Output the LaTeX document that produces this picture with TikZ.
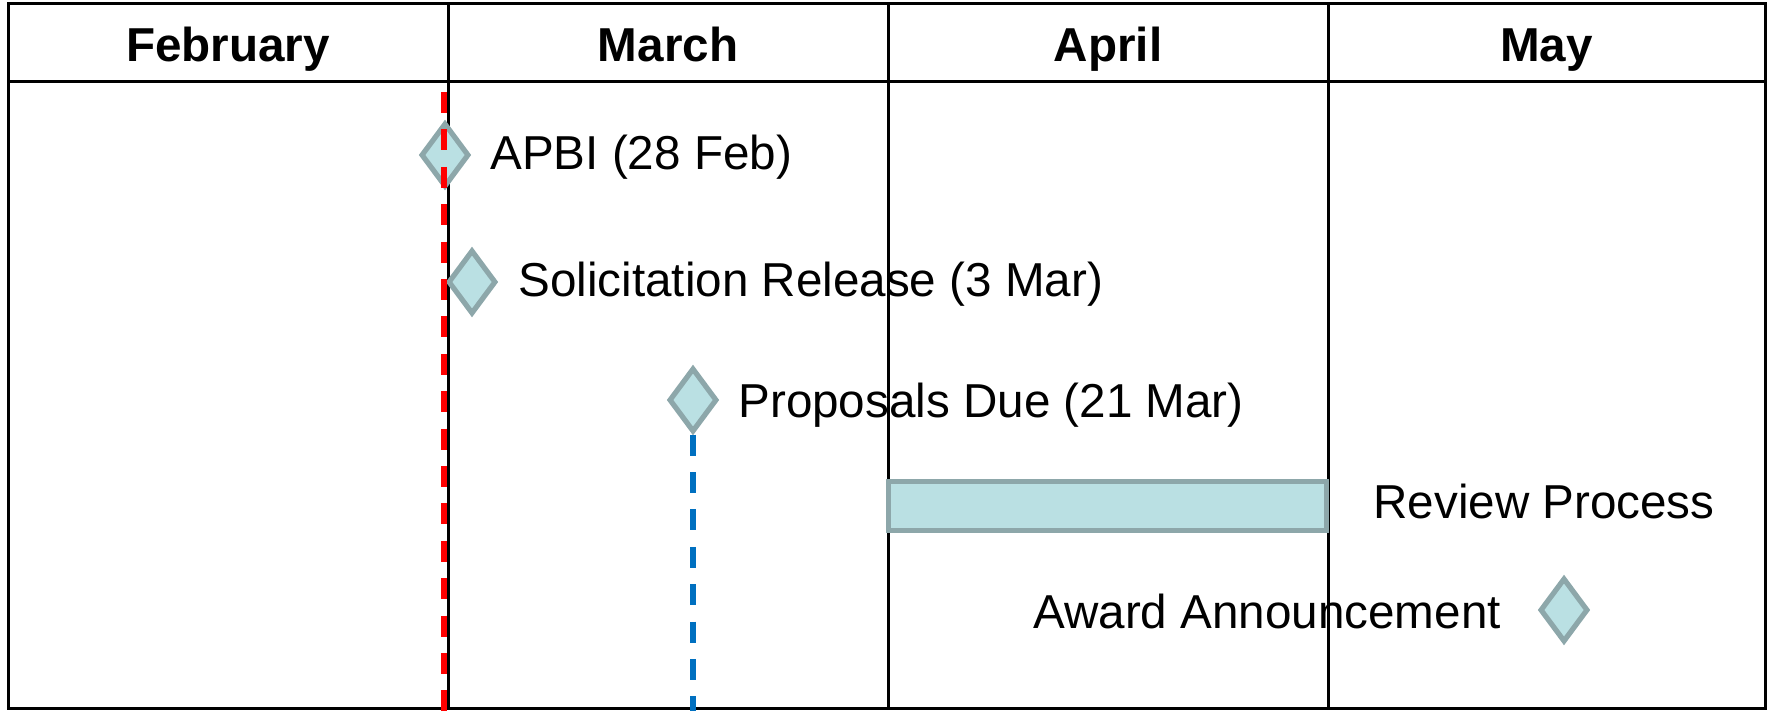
\documentclass[tikz,border=0pt]{standalone}
\usepackage{fontspec}
\setmainfont{Liberation Sans}
\usetikzlibrary{shapes.geometric}
\definecolor{msfill}{RGB}{186,224,227}
\definecolor{msline}{RGB}{141,167,170}
\definecolor{redline}{RGB}{255,0,0}
\definecolor{blueline}{RGB}{0,112,192}
\begin{document}
\begin{tikzpicture}[x=0.5pt,y=-0.5pt,
  grid/.style={line width=1.5pt, draw=black},
  month/.style={font=\fontsize{23.8pt}{28pt}\selectfont\bfseries, inner sep=0pt, anchor=base},
  lbl/.style={font=\fontsize{23.8pt}{28pt}\selectfont, inner sep=0pt, anchor=base west},
  milestone/.style={shape=diamond, draw=msline, fill=msfill, line width=2.6pt, minimum width=24pt, minimum height=32pt, inner sep=0pt},
  taskbar/.style={draw=msline, fill=msfill, line width=2.6pt, inner sep=0pt, minimum width=219pt, minimum height=24.5pt},
  reddash/.style={draw=redline, line width=2.8pt, dash pattern=on 10.5pt off 8.2pt},
  bluedash/.style={draw=blueline, line width=2.8pt, dash pattern=on 10.5pt off 8.2pt}
]
\useasboundingbox (0,0) rectangle (1772,711);
% grid
\draw[grid] (8,4) rectangle (1765,708);
\draw[grid] (8,82) -- (1765,82);
\foreach \xx in {448,888,1328} \draw[grid] (\xx,4) -- (\xx,708);
% month headers
\node[month] (feb) at (228,62) {February};
\node[month] (mar) at (668,62) {March};
\node[month] (apr) at (1108,62) {April};
\node[month] (may) at (1546.5,62) {May};
% review bar
\node[taskbar] (review) at (1107.5,506) {};
% milestones
\node[milestone] (apbi) at (445,155) {};
\node[milestone] (sol) at (472,282) {};
\node[milestone] (prop) at (693,400) {};
\node[milestone] (award) at (1564,610) {};
% dashed lines
\coordinate (bluebot) at (693,711);
\draw[bluedash] (prop.south) -- (bluebot);
\coordinate (redtop) at (444,92);
\coordinate (redbot) at (444,711);
\draw[reddash] (redtop) -- (redbot);
% labels
\node[lbl] (apbiL) at (490,170) {APBI (28 Feb)};
\node[lbl] (solL) at (518,297) {Solicitation Release (3 Mar)};
\node[lbl] (propL) at (738,417) {Proposals Due (21 Mar)};
\node[lbl] (reviewL) at (1373,518) {Review Process};
\node[lbl] (awardL) at (1033,628) {Award Announcement};
\end{tikzpicture}
\end{document}
